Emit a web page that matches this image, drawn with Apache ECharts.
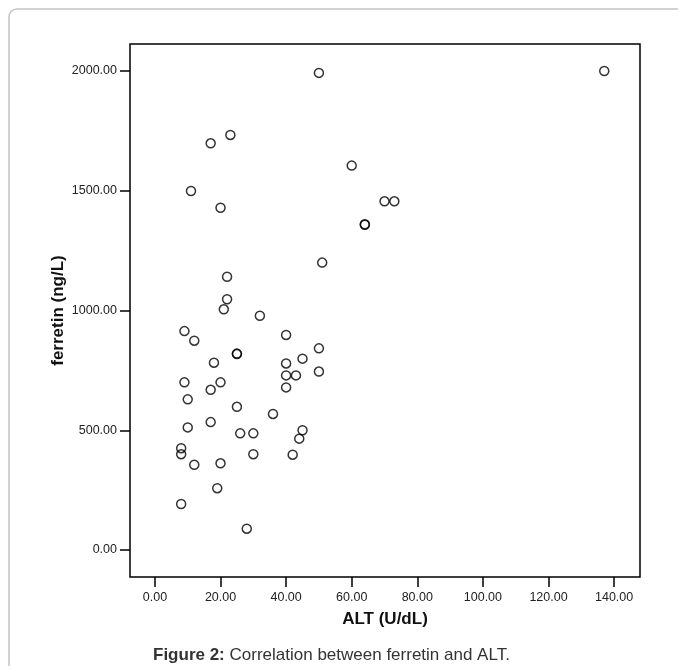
<!DOCTYPE html>
<html>
<head>
<meta charset="utf-8">
<script src="https://cdn.jsdelivr.net/npm/echarts@6/dist/echarts.min.js"></script>
<style>
  html, body { margin: 0; padding: 0; background: #fff; }
  #scatter { width: 678px; height: 666px; }
</style>
</head>
<body>
<div id="scatter"></div>
<script>
// ALT (U/dL) and ferretin (ng/L)
const altValues = [137, 50, 23, 17, 60, 11, 20, 70, 73, 64, 64, 51, 22, 22, 21, 32, 9, 12, 40, 50,
  25, 25, 18, 45, 40, 40, 43, 50, 40, 9, 20, 17, 10, 25, 36, 17, 10, 26, 30, 45,
  44, 8, 8, 30, 42, 12, 20, 19, 8, 28]
const ferretinValues = [2000, 1992, 1733, 1698, 1605, 1499, 1429, 1456, 1456, 1358, 1360, 1200, 1141, 1047, 1005, 978, 914, 874, 898, 842,
  818, 820, 782, 799, 779, 729, 729, 745, 679, 700, 700, 669, 629, 598, 568, 534, 512, 487, 487, 500,
  465, 425, 400, 400, 398, 356, 362, 258, 192, 89]
const xTicks = [0, 20, 40, 60, 80, 100, 120, 140]
const yTicks = [0, 500, 1000, 1500, 2000]

let chartDom = document.getElementById('scatter')
let myChart = echarts.init(chartDom)

let points = altValues.map((a, i) => [a, ferretinValues[i]])

let labelStyle = {
  color: '#222',
  fontSize: 12.5,
  fontFamily: 'Liberation Sans',
  formatter: (v) => Number(v).toFixed(2)
}

let option = {
  animation: false,
  title: {
    text: '{b|Figure 2:} Correlation between ferretin and ALT.',
    left: 148,
    top: 642,
    textStyle: {
      color: '#333',
      fontSize: 17,
      fontWeight: 'normal',
      fontFamily: 'Liberation Sans',
      rich: {
        b: { fontWeight: 'bold', fontSize: 17, color: '#333', fontFamily: 'Liberation Sans' }
      }
    }
  },
  graphic: [
    {
      type: 'rect',
      shape: { x: 9, y: 9, width: 720, height: 720, r: 8 },
      style: { fill: 'none', stroke: '#c4c4c4', lineWidth: 1.5 },
      z: -1
    }
  ],
  grid: {
    left: 130,
    right: 38,
    top: 44,
    bottom: 89,
    show: true,
    borderColor: '#000',
    borderWidth: 1.5
  },
  xAxis: {
    type: 'value',
    min: -7.6,
    max: 147.9,
    name: 'ALT (U/dL)',
    nameLocation: 'middle',
    nameGap: 34,
    nameTextStyle: { color: '#111', fontSize: 17, fontWeight: 'bold', fontFamily: 'Liberation Sans' },
    splitLine: { show: false },
    axisLine: { show: false, onZero: false },
    axisTick: { show: true, length: 10, customValues: xTicks, lineStyle: { color: '#000', width: 1.5 } },
    axisLabel: Object.assign({ margin: 14, customValues: xTicks }, labelStyle)
  },
  yAxis: {
    type: 'value',
    min: -112.7,
    max: 2112.7,
    name: 'ferretin (ng/L)',
    nameLocation: 'middle',
    nameGap: 63,
    nameMoveOverlap: false,
    nameTextStyle: { color: '#111', fontSize: 17, fontWeight: 'bold', fontFamily: 'Liberation Sans' },
    splitLine: { show: false },
    axisLine: { show: false, onZero: false },
    axisTick: { show: true, length: 10, customValues: yTicks, lineStyle: { color: '#000', width: 1.5 } },
    axisLabel: Object.assign({ margin: 13, customValues: yTicks }, labelStyle)
  },
  series: [
    {
      type: 'scatter',
      data: points,
      symbol: 'circle',
      symbolSize: 9,
      itemStyle: {
        color: 'rgba(0,0,0,0)',
        borderColor: '#000',
        borderWidth: 1.5
      }
    }
  ]
}

option && myChart.setOption(option)
</script>
</body>
</html>
